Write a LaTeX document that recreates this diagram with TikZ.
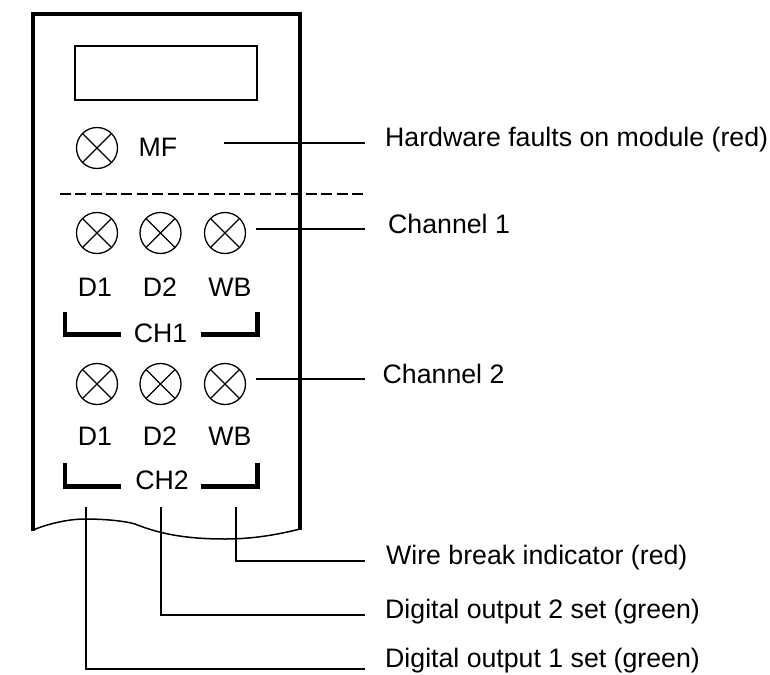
\documentclass[tikz,border=0pt]{standalone}
\usepackage{fontspec}
\setmainfont{Liberation Sans}
\begin{document}
\begin{tikzpicture}[x=1pt, y=-1pt,
    lamp/.style={draw, circle, line width=1.3pt, minimum size=41pt, inner sep=0pt,
        path picture={\draw[line width=1.3pt] (path picture bounding box.north west) -- (path picture bounding box.south east)
            (path picture bounding box.north east) -- (path picture bounding box.south west);}},
    lbl/.style={inner sep=0pt, font=\fontsize{26.7}{30}\selectfont},
    caption/.style={lbl, anchor=base west},
    frame/.style={line width=4.4pt},
    bracket/.style={line width=4.2pt},
    leader/.style={line width=1.4pt}]

\useasboundingbox (0,0) rectangle (770,674);

\draw[frame] (33,531) -- (33,14) -- (300,14) -- (300,530);
\draw[line width=1.5pt] (33,530) .. controls (50,523) and (70,519) .. (85,519)
    .. controls (105,519) and (125,521) .. (135,524)
    .. controls (155,532) and (180,539) .. (225,539)
    .. controls (255,539) and (280,534) .. (300,529);
\draw[line width=1.4pt] (75,46) rectangle (257,100);

\node[lamp] (lampMF) at (97,148) {};
\node[lbl] (textMF) at (158,147) {MF};
\draw[dash pattern=on 11pt off 4.37pt, line width=1.4pt] (60,194) -- (363,194);

\node[lamp] (lampA1) at (97,233) {};
\node[lamp] (lampA2) at (160.5,233) {};
\node[lamp] (lampA3) at (225,233) {};
\node[lbl] (textA1) at (95,287) {D1};
\node[lbl] (textA2) at (160,287) {D2};
\node[lbl] (textA3) at (230,287) {WB};
\node[lbl] (chA) at (160.5,333) {CH1};
\draw[bracket] (65,312) -- (65,334.5) -- (120.5,334.5);
\draw[bracket] (201,334.5) -- (257.5,334.5) -- (257.5,312);

\node[lamp] (lampB1) at (97,384) {};
\node[lamp] (lampB2) at (160.5,384) {};
\node[lamp] (lampB3) at (225,384) {};
\node[lbl] (textB1) at (95,436) {D1};
\node[lbl] (textB2) at (160,436) {D2};
\node[lbl] (textB3) at (230,436) {WB};
\node[lbl] (chB) at (162,480) {CH2};
\draw[bracket] (65,463) -- (65,486.5) -- (120.5,486.5);
\draw[bracket] (201,486.5) -- (257.5,486.5) -- (257.5,463);

\node[caption] (capMF) at (385,146) {Hardware faults on module (red)};
\node[caption] (capA) at (388,233) {Channel 1};
\node[caption] (capB) at (382.5,383) {Channel 2};
\node[caption] (capWB) at (386,564) {Wire break indicator (red)};
\node[caption] (capD2) at (385,618) {Digital output 2 set (green)};
\node[caption] (capD1) at (385,667.5) {Digital output 1 set (green)};

\coordinate (endMF) at (224,143);
\coordinate (endA) at (256,229);
\coordinate (endB) at (256,379);
\coordinate (endWB) at (236,507);
\coordinate (endD2) at (161,507);
\coordinate (endD1) at (86,507);

\draw[leader] (endMF) -- (365,143);
\draw[leader] (endA) -- (365,229);
\draw[leader] (endB) -- (365,379);
\draw[leader] (endWB) |- (365,561);
\draw[leader] (endD2) |- (365,615);
\draw[leader] (endD1) |- (365,669);

\end{tikzpicture}
\end{document}
